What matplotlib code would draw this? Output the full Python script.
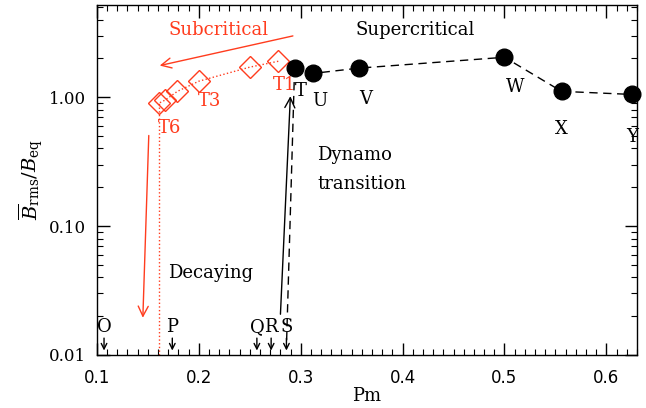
import matplotlib
matplotlib.use("Agg")
import matplotlib.pyplot as plt
from matplotlib.ticker import MultipleLocator, FixedLocator, LogLocator, NullFormatter

# supercritical runs (filled circles)
sup_names = ["T", "U", "V", "W", "X", "Y"]
sup_pm = [0.294, 0.3125, 0.357, 0.5, 0.556, 0.625]
sup_b = [1.68, 1.53, 1.68, 2.04, 1.11, 1.05]

# subcritical branch (open diamonds), T1 ... T6
sub_pm = [0.278, 0.25, 0.2, 0.179, 0.167, 0.161]
sub_b = [1.90, 1.71, 1.33, 1.11, 0.95, 0.90]
sub_labels = {"T1": 0, "T3": 2, "T6": 5}

# decaying runs, marked by arrows at the bottom
dec_names = ["O", "P", "Q", "R", "S"]
dec_pm = [0.107, 0.174, 0.257, 0.271, 0.286]

RED = "#ff3c1e"
plt.rcParams["font.family"] = "DejaVu Serif"
plt.rcParams["mathtext.fontset"] = "dejavuserif"

fig = plt.figure(figsize=(6.46, 4.08), dpi=100)
ax = fig.add_axes([0.150, 0.130, 0.836, 0.858])
ax.set_yscale("log")
ax.set_xlim(0.1, 0.63)
ax.set_ylim(0.01, 5.2)

# red subcritical branch
ax.plot(sub_pm, sub_b, ls=":", color=RED, lw=1, marker="D", ms=11,
        mfc="none", mec=RED, mew=1)
ax.plot([sub_pm[-1], sub_pm[-1]], [0.01, sub_b[-1]], ls=":", color=RED, lw=1)
sub_off = {"T1": (0.006, 0.66), "T3": (0.011, 0.70), "T6": (0.010, 0.64)}
for lab, i in sub_labels.items():
    dx, fy = sub_off[lab]
    ax.text(sub_pm[i] + dx, sub_b[i] * fy, lab, color=RED, fontsize=13,
            ha="center", va="center")

# black supercritical branch
ax.plot(sup_pm, sup_b, ls=(0, (6, 4)), color="black", lw=1, marker="o", ms=12,
        mfc="black", mec="black", clip_on=False, zorder=5)
off = {"T": (0.006, 0.66), "U": (0.006, 0.61), "V": (0.007, 0.58),
       "W": (0.01, 0.59), "X": (0.0, 0.51), "Y": (0.0, 0.47)}
for n, x, y in zip(sup_names, sup_pm, sup_b):
    dx, fy = off[n]
    ax.text(x + dx, y * fy, n, fontsize=13, ha="center", va="center")

# dashed drop from T to S
ax.plot([sup_pm[0], dec_pm[-1]], [sup_b[0], 0.0115], ls=(0, (6, 4)),
        color="black", lw=1)

# decaying markers
for n, x in zip(dec_names, dec_pm):
    ax.annotate("", xy=(x, 0.0103), xytext=(x, 0.0142),
                arrowprops=dict(arrowstyle="->", color="black", lw=1))
    ax.text(x, 0.0165, n, fontsize=13, ha="center", va="center")

# arrows
ax.annotate("", xy=(0.159, 1.74), xytext=(0.295, 3.02),
            arrowprops=dict(arrowstyle="->", color=RED, lw=1,
                            mutation_scale=18))
ax.annotate("", xy=(0.145, 0.0185), xytext=(0.151, 0.53),
            arrowprops=dict(arrowstyle="->", color=RED, lw=1,
                            mutation_scale=18))
ax.annotate("", xy=(0.290, 1.07), xytext=(0.280, 0.0197),
            arrowprops=dict(arrowstyle="->", color="black", lw=1,
                            mutation_scale=18))

ax.text(0.219, 3.3, "Subcritical", color=RED, fontsize=13, ha="center", va="center")
ax.text(0.412, 3.3, "Supercritical", fontsize=13, ha="center", va="center")
ax.text(0.316, 0.355, "Dynamo", fontsize=13, ha="left", va="center")
ax.text(0.316, 0.212, "transition", fontsize=13, ha="left", va="center")
ax.text(0.170, 0.0433, "Decaying", fontsize=13, ha="left", va="center")

# axes and ticks
ax.xaxis.set_major_locator(MultipleLocator(0.1))
ax.xaxis.set_minor_locator(MultipleLocator(0.01))
ax.yaxis.set_major_locator(FixedLocator([0.01, 0.1, 1.0]))
ax.yaxis.set_minor_locator(LogLocator(base=10, subs=range(2, 10)))
ax.yaxis.set_minor_formatter(NullFormatter())
ax.set_yticklabels(["0.01", "0.10", "1.00"])
ax.set_xticks([0.1, 0.2, 0.3, 0.4, 0.5, 0.6])
ax.set_xticklabels(["0.1", "0.2", "0.3", "0.4", "0.5", "0.6"],
                   family="DejaVu Sans")
ax.tick_params(which="both", direction="in", top=True, right=True, labelsize=12)
ax.tick_params(which="major", length=9, width=1, pad=8)
ax.tick_params(axis="x", which="major", pad=10)
ax.tick_params(which="minor", length=4.5, width=0.8)
for s in ax.spines.values():
    s.set_linewidth(1)

ax.set_xlabel("Pm", fontsize=13, labelpad=0)
ax.set_ylabel(r"$\overline{B}_{\rm rms}/B_{\rm eq}$", fontsize=14, labelpad=2)

fig.savefig("out.png", dpi=100)
